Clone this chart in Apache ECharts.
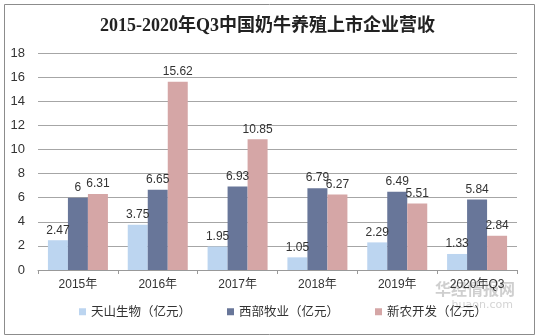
<!DOCTYPE html>
<html>
<head>
<meta charset="utf-8">
<script src="https://cdn.jsdelivr.net/npm/echarts@6/dist/echarts.min.js"></script>
<style>
  html, body { margin: 0; padding: 0; background: #fff; }
  #chart { width: 535px; height: 335px; }
</style>
</head>
<body>
<div id="chart"></div>
<script>
const years = ['2015年', '2016年', '2017年', '2018年', '2019年', '2020年Q3']
const tianshan = [2.47, 3.75, 1.95, 1.05, 2.29, 1.33]
const xibu = [6, 6.65, 6.93, 6.79, 6.49, 5.84]
const xinnong = [6.31, 15.62, 10.85, 6.27, 5.51, 2.84]
const seriesNames = ['天山生物（亿元）', '西部牧业（亿元）', '新农开发（亿元）']
const colors = ['#bcd5f0', '#687699', '#d5a6a6']

const chart = echarts.init(document.getElementById('chart'))

const labelStyle = {
  show: true,
  position: 'top',
  distance: 4,
  fontSize: 12,
  color: '#333',
  fontFamily: 'Liberation Sans, Arial, sans-serif'
}

const makeSeries = (name, data, idx) => ({
  name,
  type: 'bar',
  data,
  barWidth: 20,
  barGap: '0%',
  itemStyle: { color: colors[idx] },
  label: labelStyle
})

chart.setOption({
  animation: false,
  title: {
    text: '2015-2020年Q3中国奶牛养殖上市企业营收',
    left: 'center',
    top: 12,
    textStyle: {
      fontSize: 18,
      fontWeight: 'bold',
      color: '#222',
      fontFamily: 'Liberation Serif, Noto Sans CJK SC, serif'
    }
  },
  grid: { left: 38, right: 18, top: 53, bottom: 65 },
  legend: {
    bottom: 12,
    left: 74,
    itemWidth: 7,
    itemHeight: 7,
    itemGap: 36,
    icon: 'rect',
    textStyle: { fontSize: 12.5, color: '#333', fontFamily: 'Noto Sans CJK SC, sans-serif' },
    data: seriesNames
  },
  xAxis: {
    type: 'category',
    data: years,
    axisLine: { lineStyle: { color: '#999' } },
    axisTick: { show: true, length: 4, lineStyle: { color: '#999' } },
    axisLabel: { fontSize: 12, color: '#333', margin: 9, fontFamily: 'Liberation Sans, Noto Sans CJK SC, sans-serif' }
  },
  yAxis: {
    type: 'value',
    min: 0,
    max: 18,
    interval: 2,
    axisLine: { show: false },
    axisTick: { show: false },
    axisLabel: { fontSize: 13, color: '#333', margin: 13, fontFamily: 'Liberation Sans, Arial, sans-serif' },
    splitLine: { lineStyle: { color: '#a6a6a6' } }
  },
  series: [
    makeSeries(seriesNames[0], tianshan, 0),
    makeSeries(seriesNames[1], xibu, 1),
    makeSeries(seriesNames[2], xinnong, 2)
  ],
  graphic: [
    {
      type: 'rect',
      left: 2, top: 2,
      shape: { width: 530, height: 330 },
      style: { fill: 'none', stroke: '#8c8c8c', lineWidth: 1 },
      silent: true
    },
    {
      type: 'text',
      right: 20, bottom: 38,
      style: { text: '华经情报网', fontSize: 16, fontWeight: 'bold', fill: 'rgba(160,160,160,0.5)', fontFamily: 'Noto Sans CJK SC, sans-serif' },
      silent: true
    },
    {
      type: 'text',
      right: 22, bottom: 24,
      style: { text: 'huaon.com', fontSize: 11, fill: 'rgba(170,170,170,0.5)', fontFamily: 'DejaVu Sans, sans-serif' },
      silent: true
    }
  ]
})

window.addEventListener('resize', () => chart.resize())
</script>
</body>
</html>
